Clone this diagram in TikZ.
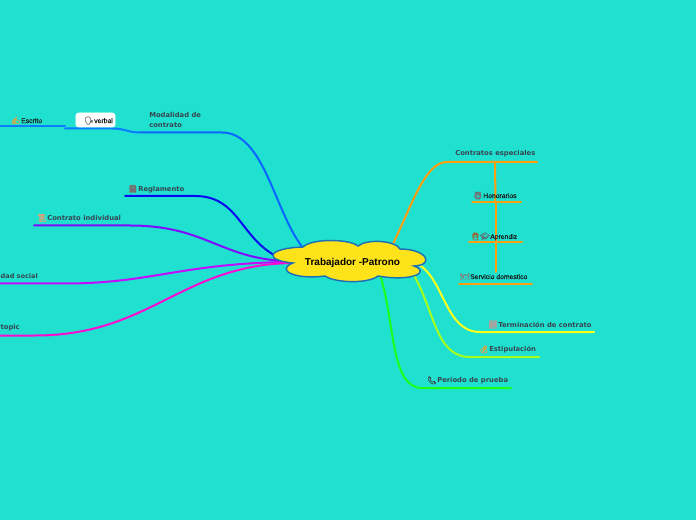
\documentclass[tikz,border=0pt]{standalone}
\usepackage{fontspec}
\setmainfont{Liberation Sans}
\newfontfamily\labelfont{DejaVu Sans}
\newfontfamily\thinfont[FakeBold=0.35]{Liberation Sans}
\newfontfamily\emojifont[FakeBold=1.2]{Noto Emoji}
\usetikzlibrary{arrows.meta,positioning,calc}
\definecolor{mapBack}{HTML}{20E0D0}
\definecolor{mapInk}{HTML}{37474F}
\definecolor{mapYellow}{HTML}{FFE31A}
\definecolor{mapEdge}{HTML}{1F6FB5}
\definecolor{mapOrange}{HTML}{FF9E0F}
\definecolor{mapLemon}{HTML}{FFFF1A}
\definecolor{mapLime}{HTML}{A6FF1A}
\definecolor{mapGreen}{HTML}{1AFF1A}
\definecolor{mapAzure}{HTML}{0A66FF}
\definecolor{mapSky}{HTML}{0A7CFF}
\definecolor{mapBlue}{HTML}{0A0AF0}
\definecolor{mapViolet}{HTML}{7F0AFF}
\definecolor{mapPurple}{HTML}{C40AFF}
\definecolor{mapPink}{HTML}{FF0AD0}
\definecolor{mapGold}{HTML}{E8A33D}
\newcommand{\icoglyph}[2]{{\emojifont\fontsize{5.6}{5.6}\selectfont\color{#1}#2}}
\newcommand{\ico}[2]{\llap{\icoglyph{#1}{#2}\hspace{0.5pt}}}
\tikzset{
    topicbold/.style={font=\labelfont\bfseries\fontsize{5.1}{7}\selectfont, text=mapInk, inner sep=0pt, align=left},
    topicthin/.style={font=\thinfont\fontsize{5.1}{6}\selectfont, text=black!90, inner sep=0pt},
    titletext/.style={font=\bfseries\fontsize{7.5}{8}\selectfont, text=black, inner sep=0pt},
    branch/.style={line width=1.5pt, line cap=round},
    limb/.style={line width=1.5pt, line cap=round},
    cloudshape/.style={draw=mapEdge, line width=1.1pt, fill=mapYellow}
}
\begin{document}
\begin{tikzpicture}[x=0.75pt,y=-0.75pt]
\useasboundingbox[fill=mapBack] (0,0) rectangle (696,520);
% ends of the branches
\coordinate (edgeModal) at (304,249);
\coordinate (edgeRegla) at (280,258);
\coordinate (edgeIndiv) at (285,261);
\coordinate (edgeSocial) at (285,262);
\coordinate (edgeTopic) at (290,263);
\coordinate (edgeEspec) at (392,246);
\coordinate (edgeTermi) at (418,264);
\coordinate (edgeEstip) at (412,272);
\coordinate (edgePrueba) at (380,275);
\coordinate (modalA) at (222,132.5);
\coordinate (modalB) at (140,132.5);
\coordinate (verbalA) at (65,128.5);
\coordinate (escritoA) at (65,126.5);
\coordinate (escritoB) at (0,126.5);
\coordinate (reglaA) at (195,196);
\coordinate (reglaB) at (125,196);
\coordinate (indivA) at (130,225.5);
\coordinate (indivB) at (34,225.5);
\coordinate (socialA) at (65,283.5);
\coordinate (socialB) at (0,283.5);
\coordinate (topicA) at (35,335.5);
\coordinate (topicB) at (0,335.5);
\coordinate (especA) at (447,162);
\coordinate (especB) at (537,162);
\coordinate (trunkA) at (495,162);
\coordinate (honorL) at (472,202.5);
\coordinate (honorR) at (521,202.5);
\coordinate (trunkB) at (495.5,202.5);
\coordinate (aprenL) at (469,242.5);
\coordinate (aprenR) at (522,242.5);
\coordinate (trunkC) at (495.5,242.5);
\coordinate (servL) at (459,284.5);
\coordinate (servR) at (532,284.5);
\coordinate (trunkD) at (495.5,272);
\coordinate (termiA) at (480,332);
\coordinate (termiB) at (594,332);
\coordinate (estipA) at (470,357);
\coordinate (estipB) at (539,357);
\coordinate (pruebaA) at (422,388);
\coordinate (pruebaB) at (511,388);
% left side
\draw[branch, mapAzure] (edgeModal) .. controls (275,215) and (265,132.5) .. (modalA) -- (modalB);
\draw[limb, mapSky] (modalB) .. controls (128,132.5) and (125,128.5) .. (112,128.5) -- (verbalA);
\draw[limb, mapSky] (escritoA) -- (escritoB);
\draw[branch, mapBlue] (edgeRegla) .. controls (240,240) and (240,196) .. (reglaA) -- (reglaB);
\draw[branch, mapViolet] (edgeIndiv) .. controls (220,258) and (205,225.5) .. (indivA) -- (indivB);
\draw[branch, mapPurple] (edgeSocial) .. controls (180,264) and (150,283.5) .. (socialA) -- (socialB);
\draw[branch, mapPink] (edgeTopic) .. controls (180,266) and (150,335.5) .. (topicA) -- (topicB);
% right side
\draw[branch, mapOrange] (edgeEspec) .. controls (412,205) and (425,162) .. (especA) -- (especB);
\draw[limb, mapOrange] (trunkA) -- (trunkB);
\draw[limb, mapOrange] (trunkB) -- (trunkC);
\draw[limb, mapOrange] (trunkC) -- (trunkD);
\draw[limb, mapOrange] (honorL) -- (honorR);
\draw[limb, mapOrange] (aprenL) -- (aprenR);
\draw[limb, mapOrange] (servL) -- (servR);
\draw[branch, mapLemon] (edgeTermi) .. controls (445,280) and (445,332) .. (termiA) -- (termiB);
\draw[branch, mapLime] (edgeEstip) .. controls (435,310) and (435,357) .. (estipA) -- (estipB);
\draw[branch, mapGreen] (edgePrueba) .. controls (395,320) and (390,388) .. (pruebaA) -- (pruebaB);
% the cloud
\draw[cloudshape] (303,247)
  .. controls (312,238) and (350,239) .. (358,246)
  .. controls (366,239) and (395,240) .. (400,249)
  .. controls (427,249) and (435,265) .. (414,266)
  .. controls (431,272) and (412,282) .. (378,276)
  .. controls (368,284) and (335,283) .. (325,276)
  .. controls (295,280) and (275,270) .. (293,263)
  .. controls (262,260) and (268,248) .. (303,247) -- cycle;
\node[titletext] (patrono) at (352.5,263) {Trabajador -Patrono};
% labels
\node[topicbold, anchor=south west] (modalLabel) at (149,127.5) {Modalidad de\\contrato};
\node[draw=white, fill=white, rounded corners=2pt, minimum width=29.5pt, minimum height=10.5pt, inner sep=0pt] (verbalBox) at (95.5,120) {};
\node[topicthin, anchor=west] (verbalLabel) at (94,120.5) {\ico{black!60}{🗣}verbal};
\node[topicthin, anchor=west] (escritoLabel) at (21,120.5) {\ico{mapGold}{✍}Escrito};
\node[topicbold, anchor=west] (reglaLabel) at (138,189) {\ico{black!55}{📓}Reglamento};
\node[topicbold, anchor=west] (indivLabel) at (47,218) {\ico{brown!70}{📜}Contrato individual};
\node[topicbold, anchor=west, font=\labelfont\bfseries\fontsize{4.9}{6}\selectfont] (socialLabel) at (0.4,276) {dad social};
\node[topicbold, anchor=east] (topicLabel) at (20,328) {topic};
\node[topicbold, anchor=west] (especLabel) at (455,154) {Contratos especiales};
\node[topicthin, anchor=west] (honorLabel) at (483,195.5) {\ico{black!55}{⏰}Honorarios};
\node[topicthin, anchor=west] (aprenLabel) at (490,236.5) {\llap{\icoglyph{brown!80!black}{👩}\icoglyph{black!60}{🎓}\hspace{0.5pt}}Aprendiz};
\node[topicthin, anchor=west] (servLabel) at (470,276.5) {\ico{black!50}{🍽}Servicio domestico};
\node[topicbold, anchor=west] (termiLabel) at (498,324.5) {\ico{red!35!black!40}{📈}Terminación de contrato};
\node[topicbold, anchor=west] (estipLabel) at (489,349.5) {\ico{mapGold}{💰}Estipulación};
\node[topicbold, anchor=west] (pruebaLabel) at (437,380.5) {\ico{black!75}{📞}Período de prueba};
\end{tikzpicture}
\end{document}
